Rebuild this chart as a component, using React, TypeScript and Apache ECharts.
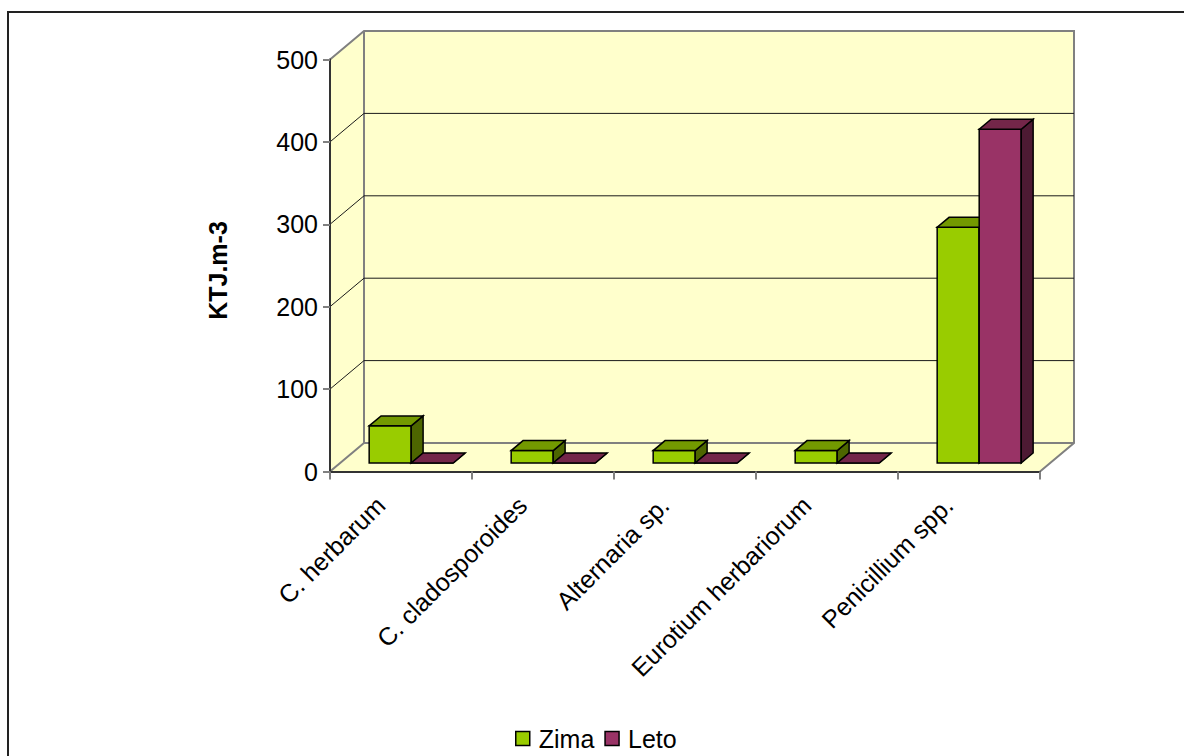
import React, { useEffect, useRef } from "react";
import * as echarts from "echarts";

// Fungal counts per species, winter (Zima) vs summer (Leto)
const categories = [
  "C. herbarum",
  "C. cladosporoides",
  "Alternaria sp.",
  "Eurotium herbariorum",
  "Penicillium spp.",
];
const zima = [45, 15, 15, 15, 286];
const leto = [0, 0, 0, 0, 405];
const yTicks = [0, 100, 200, 300, 400, 500];
const seriesNames = ["Zima", "Leto"];
const axisTitle = "KTJ.m-3";

// Oblique projection of the 3D box
const DEPTH_X = 34;
const DEPTH_Y = 28.5;
const BAR_FRONT = 0.3;
const BAR_BACK = 0.65;
const BAR_WIDTH_RATIO = 0.296;

const FONT = "'Liberation Sans', Arial, sans-serif";
const FONT_SIZE = 25;

const palette: Record<string, { front: string; top: string; side: string }> = {
  Zima: { front: "#99CC00", top: "#739900", side: "#4D6600" },
  Leto: { front: "#993366", top: "#732649", side: "#4D1A33" },
};

const WALL_FILL = "#FFFFCC";
const WALL_EDGE = "#808080";

function wallRender(params: any, api: any) {
  const cs = params.coordSys;
  const L = cs.x;
  const R = cs.x + cs.width;
  const T = api.coord([0, yTicks[yTicks.length - 1]])[1];
  const B = api.coord([0, yTicks[0]])[1];
  const fillStyle = { fill: WALL_FILL, stroke: null };
  const edge = { stroke: WALL_EDGE, lineWidth: 2, fill: null };
  return {
    type: "group",
    children: [
      {
        type: "polygon",
        shape: { points: [[L, B], [L, T], [L + DEPTH_X, T - DEPTH_Y], [L + DEPTH_X, B - DEPTH_Y]] },
        style: fillStyle,
      },
      {
        type: "polygon",
        shape: {
          points: [
            [L + DEPTH_X, B - DEPTH_Y],
            [R + DEPTH_X, B - DEPTH_Y],
            [R + DEPTH_X, T - DEPTH_Y],
            [L + DEPTH_X, T - DEPTH_Y],
          ],
        },
        style: fillStyle,
      },
      {
        type: "polygon",
        shape: { points: [[L, B], [R, B], [R + DEPTH_X, B - DEPTH_Y], [L + DEPTH_X, B - DEPTH_Y]] },
        style: fillStyle,
      },
      {
        type: "polyline",
        shape: {
          points: [
            [L, T],
            [L + DEPTH_X, T - DEPTH_Y],
            [R + DEPTH_X, T - DEPTH_Y],
            [R + DEPTH_X, B - DEPTH_Y],
            [R, B],
          ],
        },
        style: edge,
      },
      {
        type: "polyline",
        shape: {
          points: [
            [L + DEPTH_X, T - DEPTH_Y],
            [L + DEPTH_X, B - DEPTH_Y],
            [R + DEPTH_X, B - DEPTH_Y],
          ],
        },
        style: edge,
      },
      {
        type: "line",
        shape: { x1: L, y1: B, x2: L + DEPTH_X, y2: B - DEPTH_Y },
        style: edge,
      },
    ],
  };
}

function gridLineRender(params: any, api: any) {
  const cs = params.coordSys;
  const L = cs.x;
  const R = cs.x + cs.width;
  const y = api.coord([0, api.value(1)])[1];
  return {
    type: "polyline",
    shape: {
      points: [
        [L, y],
        [L + DEPTH_X, y - DEPTH_Y],
        [R + DEPTH_X, y - DEPTH_Y],
      ],
    },
    style: { stroke: "#1a1a1a", lineWidth: 1, fill: null },
  };
}

function makeBarRender(name: string, left: boolean) {
  const col = palette[name];
  return (params: any, api: any) => {
    const i = api.value(0);
    const v = api.value(1);
    const band = api.size([1, 0])[0];
    const w = band * BAR_WIDTH_RATIO;
    const top = api.coord([i, v]);
    const base = api.coord([i, 0]);
    const fx = BAR_FRONT * DEPTH_X;
    const fy = BAR_FRONT * DEPTH_Y;
    const bx = (BAR_BACK - BAR_FRONT) * DEPTH_X;
    const by = (BAR_BACK - BAR_FRONT) * DEPTH_Y;
    const x0 = top[0] + fx - (left ? w : 0);
    const x1 = x0 + w;
    const yT = top[1] - fy;
    const yB = base[1] - fy;
    const stroke = { stroke: "#000", lineWidth: 1.5, lineJoin: "miter" };
    return {
      type: "group",
      children: [
        {
          type: "polygon",
          shape: { points: [[x0, yB], [x1, yB], [x1, yT], [x0, yT]] },
          style: { fill: col.front, ...stroke },
        },
        {
          type: "polygon",
          shape: { points: [[x1, yB], [x1 + bx, yB - by], [x1 + bx, yT - by], [x1, yT]] },
          style: { fill: col.side, ...stroke },
        },
        {
          type: "polygon",
          shape: { points: [[x0, yT], [x1, yT], [x1 + bx, yT - by], [x0 + bx, yT - by]] },
          style: { fill: col.top, ...stroke },
        },
      ],
    };
  };
}

export default function App() {
  const ref = useRef<HTMLDivElement>(null);

  useEffect(() => {
    if (!ref.current) return;
    const chart = echarts.init(ref.current, undefined, { renderer: "svg" });
    const option: any = {
      animation: false,
      backgroundColor: "#ffffff",
      textStyle: { fontFamily: FONT },
      grid: { left: 330, top: 59.5, right: 144, bottom: 284.5, containLabel: false },
      legend: {
        data: seriesNames.map((n) => ({ name: n, icon: "rect" })),
        left: 510,
        top: 721,
        itemWidth: 14,
        itemHeight: 14,
        itemGap: 10,
        itemStyle: { borderColor: "#000", borderWidth: 1.5 },
        textStyle: {
          fontSize: FONT_SIZE,
          color: "#000",
          fontFamily: FONT,
          padding: [0, 0, 0, 4],
        },
      },
      xAxis: {
        type: "category",
        data: categories,
        z: 5,
        boundaryGap: true,
        axisLine: { show: true, lineStyle: { color: "#333", width: 2 } },
        axisTick: { show: true, length: 8, lineStyle: { color: WALL_EDGE, width: 2 } },
        axisLabel: {
          rotate: 45,
          interval: 0,
          margin: 9,
          fontSize: FONT_SIZE,
          color: "#000",
          fontFamily: FONT,
          padding: [0, 29, 0, 0],
        },
        splitLine: { show: false },
      },
      yAxis: {
        type: "value",
        min: yTicks[0],
        max: yTicks[yTicks.length - 1],
        interval: 100,
        z: 5,
        name: axisTitle,
        nameLocation: "middle",
        nameGap: 100,
        nameTextStyle: {
          fontSize: FONT_SIZE,
          fontWeight: "bold",
          color: "#000",
          fontFamily: FONT,
          padding: [0, 10, 0, 0],
        },
        axisLine: { show: true, lineStyle: { color: "#333", width: 2 } },
        axisTick: { show: true, length: 7, lineStyle: { color: WALL_EDGE, width: 2 } },
        axisLabel: { margin: 12, fontSize: FONT_SIZE, color: "#000", fontFamily: FONT },
        splitLine: { show: false },
      },
      series: [
        {
          type: "custom",
          name: "walls",
          silent: true,
          clip: false,
          z: 1,
          renderItem: wallRender,
          data: [[0, 0]],
        },
        {
          type: "custom",
          name: "gridlines",
          silent: true,
          clip: false,
          z: 1,
          renderItem: gridLineRender,
          data: yTicks.slice(1, -1).map((v) => [0, v]),
        },
        {
          type: "custom",
          name: seriesNames[0],
          clip: false,
          z: 3,
          itemStyle: { color: palette.Zima.front },
          renderItem: makeBarRender("Zima", true),
          data: zima.map((v, i) => [i, v]),
        },
        {
          type: "custom",
          name: seriesNames[1],
          clip: false,
          z: 3,
          itemStyle: { color: palette.Leto.front },
          renderItem: makeBarRender("Leto", false),
          data: leto.map((v, i) => [i, v]),
        },
      ],
      graphic: [
        {
          type: "rect",
          silent: true,
          z: 100,
          shape: { x: 8, y: 12, width: 1200, height: 800 },
          style: { fill: "none", stroke: "#222", lineWidth: 2 },
        },
      ],
    };
    chart.setOption(option);
    return () => chart.dispose();
  }, []);

  return (
    <div
      ref={ref}
      style={{ position: "fixed", left: 0, top: 0, width: 1184, height: 756, background: "#fff" }}
    />
  );
}
